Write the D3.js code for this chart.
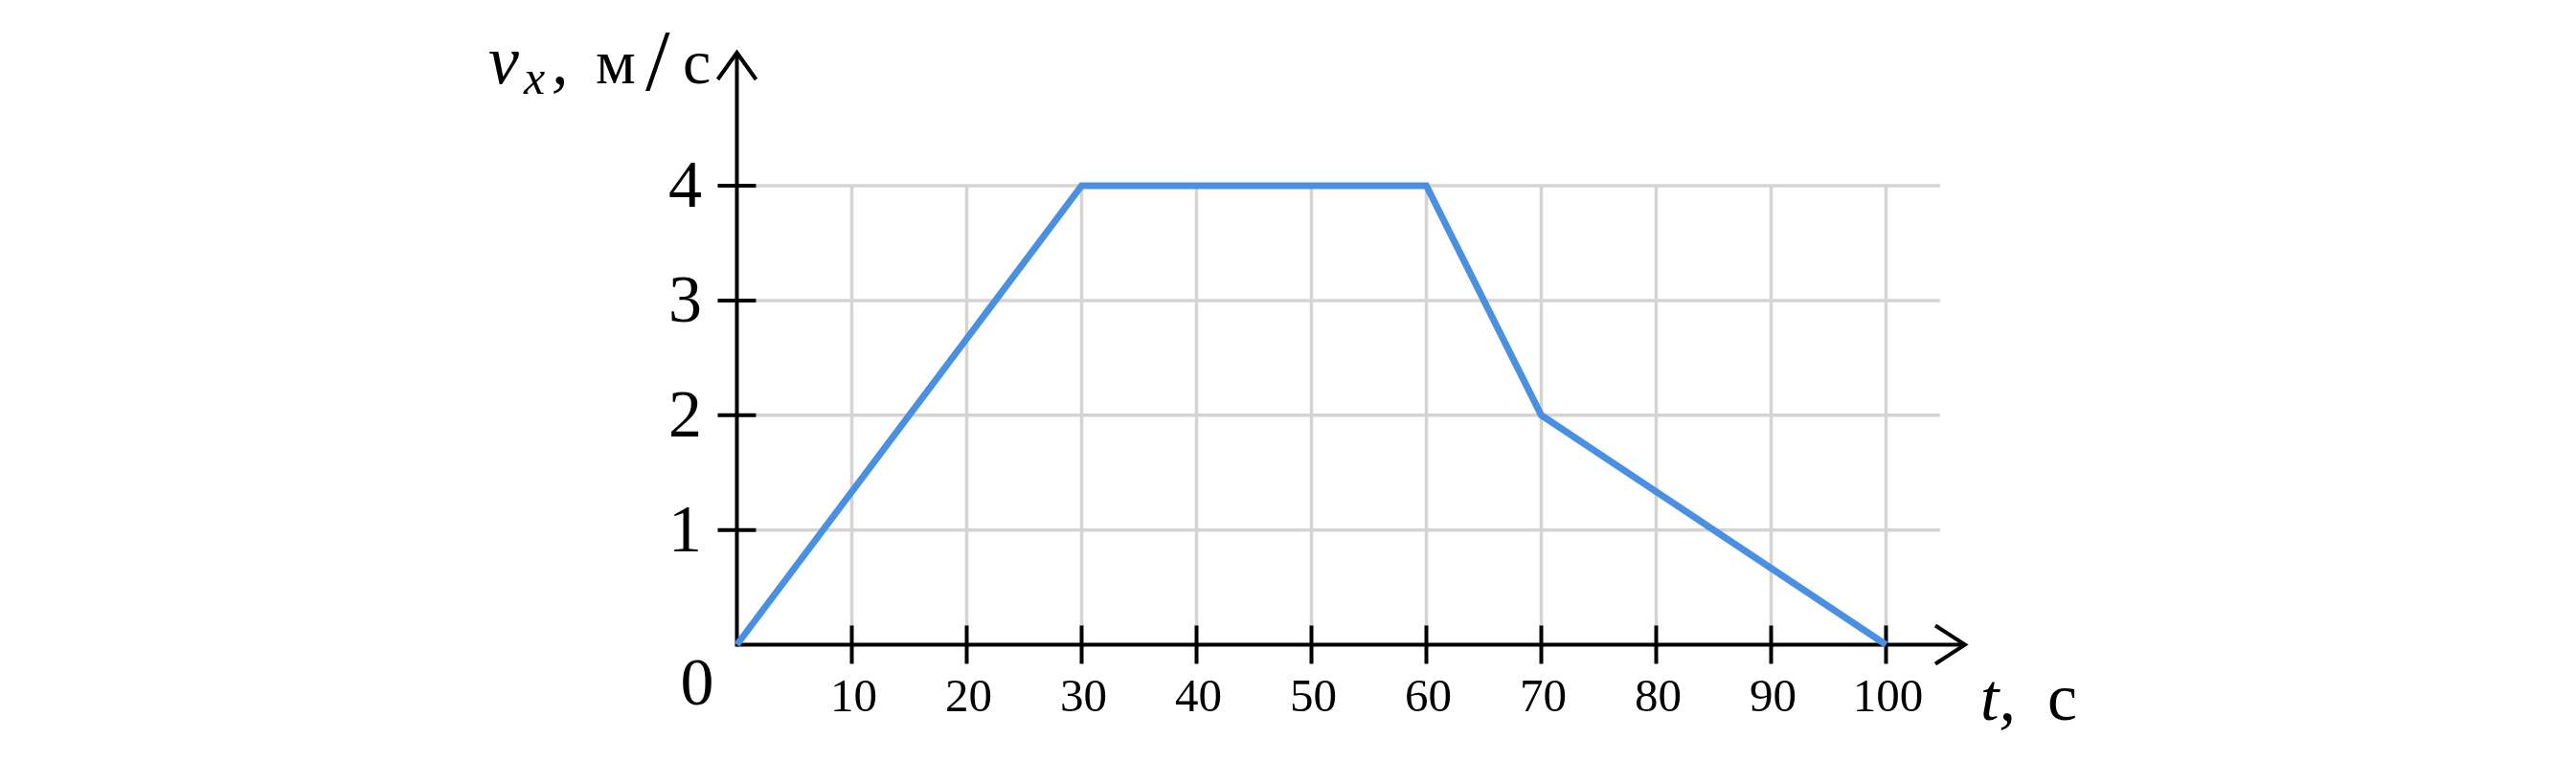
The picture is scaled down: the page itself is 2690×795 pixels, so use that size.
<!DOCTYPE html>
<html>
<head>
<meta charset="utf-8">
<script src="https://cdn.jsdelivr.net/npm/d3@7"></script>
<style>
  html, body { margin: 0; padding: 0; background: #fff; }
  svg { display: block; }
  text { font-family: "Liberation Serif", "Times New Roman", serif; fill: #000; }
</style>
</head>
<body>
<svg id="chart" width="2690" height="795"></svg>
<script>
// ---- data ----
const times = [0, 30, 60, 70, 100];
const velocities = [0, 4, 4, 2, 0];
const xTicks = [10, 20, 30, 40, 50, 60, 70, 80, 90, 100];
const yTicks = [1, 2, 3, 4];
const xTickLabels = ["10", "20", "30", "40", "50", "60", "70", "80", "90", "100"];
const yTickLabels = ["1", "2", "3", "4"];

// ---- layout ----
const svg = d3.select("#chart");
const x = d3.scaleLinear().domain([0, 100]).range([769.5, 1969.5]);
const y = d3.scaleLinear().domain([0, 4]).range([673.5, 194]);
const gridXEnd = 104.7;
const gridColor = "#d6d3d3";
const lineColor = "#4a90e2";
const axisW = 4;

// grid: vertical
svg.append("g").selectAll("line").data(xTicks).join("line")
  .attr("x1", d => x(d)).attr("x2", d => x(d))
  .attr("y1", y(4)).attr("y2", y(0) - 19)
  .attr("stroke", gridColor).attr("stroke-width", 3.5);
// grid: horizontal
svg.append("g").selectAll("line").data(yTicks).join("line")
  .attr("x1", x(0) + 20).attr("x2", x(gridXEnd))
  .attr("y1", d => y(d)).attr("y2", d => y(d))
  .attr("stroke", gridColor).attr("stroke-width", 3.5);

// axes lines
svg.append("line")
  .attr("x1", x(0)).attr("x2", 2051)
  .attr("y1", y(0)).attr("y2", y(0))
  .attr("stroke", "#000").attr("stroke-width", axisW);
svg.append("line")
  .attr("x1", x(0)).attr("x2", x(0))
  .attr("y1", y(0) + 2).attr("y2", 56)
  .attr("stroke", "#000").attr("stroke-width", axisW);

// arrowheads
svg.append("path")
  .attr("d", `M2021,${y(0) - 20} L2052,${y(0)} L2021,${y(0) + 20}`)
  .attr("fill", "none").attr("stroke", "#000").attr("stroke-width", axisW);
svg.append("path")
  .attr("d", `M${x(0) - 20},83 L${x(0)},55 L${x(0) + 20},83`)
  .attr("fill", "none").attr("stroke", "#000").attr("stroke-width", axisW);

// ticks
svg.append("g").selectAll("line").data(xTicks).join("line")
  .attr("x1", d => x(d)).attr("x2", d => x(d))
  .attr("y1", y(0) - 20).attr("y2", y(0) + 20)
  .attr("stroke", "#000").attr("stroke-width", axisW);
svg.append("g").selectAll("line").data(yTicks).join("line")
  .attr("x1", x(0) - 20).attr("x2", x(0) + 20)
  .attr("y1", d => y(d)).attr("y2", d => y(d))
  .attr("stroke", "#000").attr("stroke-width", axisW);

// tick labels
svg.append("g").selectAll("text").data(xTicks).join("text")
  .attr("x", d => x(d) + 2).attr("y", 743)
  .attr("text-anchor", "middle").attr("font-size", 49)
  .text((d, i) => xTickLabels[i]);
svg.append("g").selectAll("text").data(yTicks).join("text")
  .attr("x", 733).attr("y", d => y(d) + 22)
  .attr("text-anchor", "end").attr("font-size", 70)
  .text((d, i) => yTickLabels[i]);
svg.append("text").attr("x", 728).attr("y", 736)
  .attr("text-anchor", "middle").attr("font-size", 70).text("0");

// data line
const pts = times.map((t, i) => [t, velocities[i]]);
svg.append("path")
  .datum(pts)
  .attr("d", d3.line().x(d => x(d[0])).y(d => y(d[1])))
  .attr("fill", "none").attr("stroke", lineColor).attr("stroke-width", 7)
  .attr("stroke-linejoin", "miter");

// axis labels
const yl = svg.append("g");
yl.append("text").attr("x", 510).attr("y", 87).attr("font-size", 72).attr("font-style", "italic").text("v");
yl.append("text").attr("x", 547).attr("y", 98).attr("font-size", 50).attr("font-style", "italic").text("x");
yl.append("text").attr("x", 576).attr("y", 87).attr("font-size", 70).attr("font-style", "italic").text(",");
yl.append("text").attr("x", 622).attr("y", 87).attr("font-size", 66).text("м");
yl.append("text").attr("x", 674).attr("y", 94).attr("font-size", 92).text("/");
yl.append("text").attr("x", 713).attr("y", 87).attr("font-size", 66).text("с");

const xl = svg.append("g");
xl.append("text").attr("x", 2068).attr("y", 752).attr("font-size", 70).attr("font-style", "italic").text("t,");
xl.append("text").attr("x", 2138).attr("y", 752).attr("font-size", 70).text("с");
</script>
</body>
</html>
